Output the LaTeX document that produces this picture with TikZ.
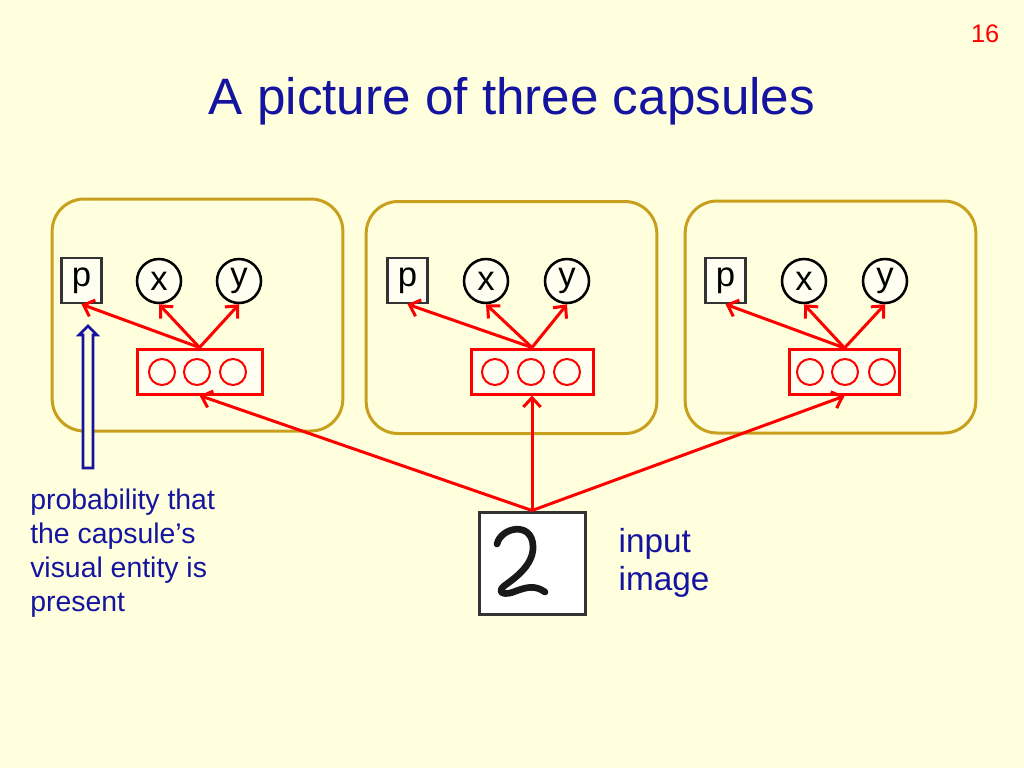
\documentclass[tikz,border=0pt]{standalone}
\usepackage{fontspec}
\setmainfont{Liberation Sans}
\usetikzlibrary{arrows.meta}
\definecolor{slidebg}{RGB}{255,255,221}
\definecolor{capsuleline}{RGB}{200,160,30}
\definecolor{slideblue}{RGB}{20,20,160}
\tikzset{
  capsule/.style={draw=capsuleline, line width=2.25pt, rounded corners=24pt,
    minimum width=218pt, minimum height=174pt, inner sep=0pt},
  pbox/.style={draw=black!80, fill=white!60!slidebg, line width=1.9pt, inner sep=0pt,
    minimum width=30pt, minimum height=33.75pt, font=\fontsize{26}{30}\selectfont},
  var/.style={draw=black, fill=white!60!slidebg, circle, line width=1.9pt, inner sep=0pt,
    minimum size=33pt, font=\fontsize{26}{30}\selectfont},
  layer/.style={draw=red, fill=white!60!slidebg, line width=2.25pt, inner sep=0pt,
    minimum height=33.75pt},
  unit/.style={draw=red, circle, line width=1.5pt, minimum size=19.5pt, inner sep=0pt},
  feed/.style={draw=red, line width=2.25pt, -{Straight Barb[length=7pt,width=13pt]}},
  pointer/.style={draw=slideblue, fill=slidebg, line width=2pt, line join=miter},
}

\begin{document}
\begin{tikzpicture}[x=0.75pt,y=-0.75pt]
\useasboundingbox (0,0) rectangle (1024,768);
\fill[slidebg] (0,0) rectangle (1024,768);

\node[font=\fontsize{19}{23}\selectfont, red, anchor=base east] (slidenum) at (1004,42) {16};
\node[font=\fontsize{38.4}{46}\selectfont, slideblue, anchor=base] (title) at (512,114)
    {A picture of three capsules};

% capsule boxes
\node[capsule] (capsule1) at (197.5,315) {};
\node[capsule] (capsule2) at (511.5,317.5) {};
\node[capsule] (capsule3) at (830.5,317) {};

% first capsule
\node[pbox] (pbox1) at (81.5,280.5) {p};
\node[var] (xcirc1) at (159,281) {x};
\node[var] (ycirc1) at (239,281) {y};
\node[layer, minimum width=93.75pt] (layer1) at (199.5,371.5) {};
\node[unit] (unit11) at (162,372) {};
\node[unit] (unit12) at (197,372) {};
\node[unit] (unit13) at (233,372) {};
\draw[feed] (layer1.north) -- (pbox1.south);
\draw[feed] (layer1.north) -- (xcirc1.south);
\draw[feed] (layer1.north) -- (ycirc1.south);

% second capsule
\node[pbox] (pbox2) at (407.5,280.5) {p};
\node[var] (xcirc2) at (486,281) {x};
\node[var] (ycirc2) at (567,281) {y};
\node[layer, minimum width=91.5pt] (layer2) at (532,371.5) {};
\node[unit] (unit21) at (495,372) {};
\node[unit] (unit22) at (531,372) {};
\node[unit] (unit23) at (567,372) {};
\draw[feed] (layer2.north) -- (pbox2.south);
\draw[feed] (layer2.north) -- (xcirc2.south);
\draw[feed] (layer2.north) -- (ycirc2.south);

% third capsule
\node[pbox] (pbox3) at (725.5,280.5) {p};
\node[var] (xcirc3) at (804,281) {x};
\node[var] (ycirc3) at (885,281) {y};
\node[layer, minimum width=82pt] (layer3) at (844.5,372) {};
\node[unit] (unit31) at (810,372) {};
\node[unit] (unit32) at (845,372) {};
\node[unit] (unit33) at (882,372) {};
\draw[feed] (layer3.north) -- (pbox3.south);
\draw[feed] (layer3.north) -- (xcirc3.south);
\draw[feed] (layer3.north) -- (ycirc3.south);

% input image
\node[draw=black!80, fill=white, line width=2.25pt, minimum width=79.5pt, minimum height=76.5pt,
    inner sep=0pt] (img) at (532,563) {};
\draw[black!90, line width=5pt, line cap=round, line join=round]
    (497,544) .. controls (501,527) and (532,521) .. (533,546)
    .. controls (534,566) and (512,580) .. (504,586)
    .. controls (496,593) and (505,596) .. (516,591)
    .. controls (527,587) and (535,585) .. (545,592);
\draw[feed] (img.north) -- (layer1.south);
\draw[feed] (img.north) -- (layer2.south);
\draw[feed] (img.north) -- (layer3.south);

\node[font=\fontsize{25}{28.5}\selectfont, slideblue, anchor=west, align=left] (imglabel)
    at (614,563) {input\\image};

% pointer to p
\coordinate (ptrtail) at (88,468);
\coordinate (ptrtip) at (88,326);
\draw[pointer] (ptrtail) ++(-5,0) -- ++(0,-133) -- ++(-4,0) -- (ptrtip)
    -- ++(9,9) -- ++(-4,0) -- ++(0,133) -- cycle;
\node[font=\fontsize{21.3}{25.5}\selectfont, slideblue, anchor=north west, align=left,
    inner sep=0pt] (probnote) at (30,489)
    {probability that\\the capsule’s\\visual entity is\\present};
\end{tikzpicture}
\end{document}
